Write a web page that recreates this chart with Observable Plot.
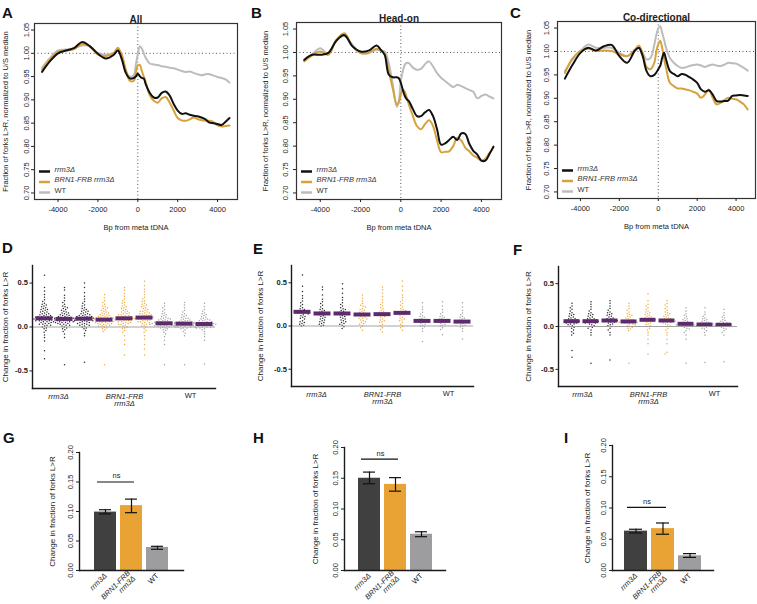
<!DOCTYPE html>
<html><head><meta charset="utf-8">
<script src="https://cdn.jsdelivr.net/npm/d3@7"></script>
<script src="https://cdn.jsdelivr.net/npm/@observablehq/plot@0.6"></script>
<style>
body{margin:0;background:#fff;font-family:"Liberation Sans",Arial,sans-serif;}
#fig{position:relative;width:757px;height:604px;overflow:hidden;background:#fff;}
#fig svg{position:absolute;}
.lt{position:absolute;font-weight:bold;font-size:15px;line-height:15px;color:#111;}
</style></head><body><div id="fig"></div>
<script>
// ---------- top row: line profiles ----------
const bp = [-4800,-4400,-4000,-3600,-3200,-2800,-2400,-2000,-1600,-1200,-1000,-800,-600,-400,-200,-100,0,100,200,300,400,600,800,1000,1200,1400,1600,1800,2000,2200,2400,2600,2800,3000,3200,3400,3600,3800,4000,4200,4400,4600];
const xTicks = [-4000,-2000,0,2000,4000];
const yTicksTop = [0.70,0.75,0.80,0.85,0.90,0.95,1.00,1.05];

const allRrm3 = [0.960,0.983,1.000,1.006,1.011,1.024,1.015,0.999,0.989,0.997,1.006,0.987,0.958,0.946,0.947,0.950,0.956,0.951,0.947,0.946,0.933,0.915,0.905,0.905,0.915,0.918,0.909,0.891,0.877,0.870,0.871,0.868,0.866,0.865,0.862,0.858,0.851,0.850,0.848,0.846,0.853,0.861];
const allBrn1 = [0.965,0.987,1.003,1.006,1.009,1.020,1.015,0.997,0.994,1.001,1.012,0.996,0.965,0.941,0.941,0.958,0.974,0.975,0.962,0.950,0.938,0.910,0.898,0.894,0.903,0.906,0.894,0.877,0.861,0.856,0.855,0.858,0.862,0.859,0.856,0.855,0.855,0.852,0.845,0.843,0.844,0.845];
const allWt   = [0.969,0.990,1.006,1.008,1.011,1.017,1.015,1.001,0.997,1.001,1.008,0.997,0.962,0.950,0.953,0.975,0.998,1.015,1.010,1.000,0.990,0.978,0.976,0.975,0.972,0.971,0.969,0.968,0.965,0.962,0.960,0.961,0.958,0.955,0.953,0.955,0.955,0.952,0.949,0.947,0.944,0.937];

const headRrm3 = [0.984,0.995,0.995,0.999,1.025,1.037,1.013,1.002,1.004,1.015,1.006,0.995,0.953,0.947,0.947,0.945,0.935,0.920,0.907,0.900,0.896,0.879,0.864,0.864,0.872,0.877,0.864,0.836,0.803,0.806,0.813,0.820,0.813,0.827,0.826,0.805,0.790,0.782,0.769,0.769,0.783,0.799];
const headBrn1 = [0.981,0.994,1.002,0.995,1.027,1.041,1.013,0.999,0.999,1.008,1.004,0.996,0.960,0.923,0.889,0.893,0.910,0.921,0.916,0.903,0.889,0.864,0.843,0.836,0.847,0.855,0.843,0.812,0.787,0.788,0.789,0.800,0.818,0.812,0.797,0.789,0.780,0.775,0.769,0.773,0.785,0.797];
const headWt   = [0.984,0.996,1.009,0.996,1.027,1.035,1.016,0.999,0.999,1.006,1.004,1.002,0.977,0.932,0.884,0.896,0.939,0.960,0.974,0.978,0.977,0.968,0.963,0.965,0.975,0.981,0.970,0.956,0.946,0.939,0.932,0.926,0.931,0.928,0.924,0.920,0.916,0.902,0.907,0.910,0.906,0.902];

const coRrm3 = [0.942,0.972,0.997,1.008,1.002,1.011,1.014,0.990,0.976,1.002,1.008,0.990,0.958,0.947,0.950,0.955,0.962,0.969,0.986,0.997,0.983,0.958,0.952,0.947,0.952,0.950,0.945,0.940,0.933,0.919,0.914,0.917,0.908,0.894,0.893,0.894,0.895,0.905,0.906,0.907,0.906,0.905];
const coBrn1 = [0.954,0.986,1.001,1.006,1.001,1.002,1.001,0.994,0.990,1.004,1.013,0.995,0.967,0.962,0.976,1.000,1.015,1.023,1.008,0.985,0.965,0.933,0.926,0.921,0.921,0.919,0.917,0.914,0.910,0.901,0.908,0.919,0.901,0.887,0.890,0.896,0.901,0.899,0.898,0.893,0.887,0.876];
const coWt   = [0.958,0.983,1.001,1.015,1.008,1.008,1.008,0.997,0.990,1.001,1.008,0.997,0.983,0.986,1.015,1.035,1.049,1.054,1.040,1.025,1.008,0.986,0.976,0.969,0.965,0.966,0.969,0.971,0.972,0.970,0.967,0.970,0.972,0.970,0.969,0.972,0.976,0.975,0.974,0.970,0.965,0.959];

const legendLabels = ["rrm3Δ", "BRN1-FRB rrm3Δ", "WT"];

// ---------- middle row: per-replicate changes (hundredths) ----------
const colGroup = ["rrm3","rrm3","rrm3","brn1","brn1","brn1","wt","wt","wt"];
const allCols = [
 "59 45 41 37 34 31 29 27 26 25 24 23 22 21 20 20 19 18 17 17 16 15 15 14 14 13 13 12 12 12 11 11 11 10 10 10 10 9 9 9 8 8 8 7 7 7 6 6 6 5 5 4 4 3 3 2 2 1 0 -1 -2 -4 -6 -9 -12 -16 -27 -36",
 "45 42 36 33 30 28 26 24 23 22 21 20 19 18 17 16 16 15 14 14 13 13 12 12 11 11 11 10 10 10 9 9 9 8 8 8 8 7 7 7 6 6 6 5 5 5 4 4 3 3 2 2 1 0 -1 -2 -3 -5 -8 -12 -43",
 "50 45 39 35 32 29 27 25 24 22 21 20 19 18 18 17 16 15 15 14 14 13 13 12 12 12 11 11 11 10 10 10 9 9 9 8 8 8 7 7 7 6 6 5 5 4 4 3 3 2 2 1 0 -1 -2 -4 -7 -10 -40",
 "37 33 30 28 26 24 23 22 21 20 19 18 17 16 16 15 14 14 13 13 12 12 11 11 11 10 10 10 9 9 9 9 8 8 8 7 7 7 6 6 6 5 5 5 4 4 4 3 3 2 2 1 1 0 -1 -2 -3 -5 -43",
 "45 42 38 35 32 30 28 27 25 24 23 22 21 20 19 18 17 17 16 15 15 14 14 13 13 12 12 11 11 11 10 10 10 9 9 9 8 8 8 7 7 6 6 5 5 4 4 3 3 2 1 0 -1 -2 -4 -6 -10 -15 -20 -32",
 "52 47 43 40 37 34 32 30 29 27 26 25 24 23 22 21 20 19 18 18 17 16 16 15 15 14 14 13 13 12 12 12 11 11 11 10 10 10 9 9 8 8 7 7 6 6 5 5 4 3 2 1 0 -2 -4 -6 -10 -14 -20 -25 -32",
 "27 24 22 20 18 16 15 14 13 12 11 10 10 9 9 8 8 7 7 6 6 6 5 5 5 5 4 4 4 4 4 3 3 3 3 2 2 2 2 1 1 1 0 0 0 -1 -1 -2 -3 -4 -6 -8 -11 -15 -20 -43",
 "28 25 22 19 17 15 14 13 12 11 10 10 9 8 8 7 7 6 6 6 5 5 5 4 4 4 4 3 3 3 3 2 2 2 2 1 1 1 0 0 0 -1 -1 -2 -3 -5 -7 -10 -43",
 "27 23 20 18 16 15 14 13 12 11 10 9 9 8 8 7 7 6 6 5 5 5 4 4 4 4 3 3 3 3 2 2 2 1 1 1 0 0 0 -1 -1 -2 -3 -5 -8 -11 -15 -42"
];
const allMeds = [0.099,0.092,0.095,0.084,0.099,0.107,0.042,0.038,0.034];

const headCols = [
 "59 46 40 35 32 29 27 25 23 21 20 19 18 17 16 16 15 15 14 13 12 11 10 9 8 6 5 4 3 2 1 0",
 "45 42 36 31 28 26 24 22 20 19 18 17 16 15 14 14 13 12 11 10 9 8 7 6 5 4 3 2 1 0",
 "49 43 38 33 30 27 25 23 21 20 19 18 17 16 15 14 14 13 12 11 10 9 8 7 6 5 4 3 2 1 -1 -3",
 "36 32 29 26 24 23 22 20 19 18 17 16 15 14 13 13 12 11 10 9 9 8 7 6 5 4 3 2 0 -2 -5",
 "45 42 38 34 30 27 25 23 21 20 18 17 16 15 14 14 13 12 11 10 8 7 6 5 4 2 0 -2 -4 -7",
 "52 46 41 36 33 30 28 26 24 22 20 19 18 17 16 15 15 14 13 12 10 9 8 7 6 4 2 0 -2 -5",
 "27 22 19 16 14 12 11 10 9 8 7 7 6 6 5 5 4 3 2 1 0 -1 -3 -6 -18",
 "28 23 19 16 14 12 11 10 9 8 7 6 6 5 5 4 3 2 1 0 -2 -4 -10",
 "27 22 18 15 13 11 10 9 8 7 6 5 5 4 4 3 2 1 0 -1 -3 -6 -15"
];
const headMeds = [0.164,0.145,0.145,0.133,0.137,0.152,0.059,0.059,0.051];

const coCols = [
 "27 24 22 20 18 16 15 14 13 12 11 10 9 9 8 8 7 7 6 6 6 5 5 4 4 3 3 2 1 0 -1 -2 -4 -6 -8 -10 -28 -36",
 "29 26 23 20 18 16 15 14 13 12 11 10 9 9 8 8 7 7 6 6 6 5 5 4 4 3 2 1 0 -1 -2 -4 -7 -10 -43",
 "30 27 24 21 19 17 16 15 14 13 12 11 10 9 9 8 8 7 7 7 6 6 5 5 4 3 2 1 0 -2 -4 -7 -10 -39",
 "27 24 21 19 17 15 14 13 12 11 10 9 8 8 7 7 6 6 6 5 5 5 4 4 3 3 2 1 0 -1 -2 -3 -5 -43",
 "38 30 26 24 22 20 18 17 16 15 14 13 12 11 10 10 9 9 8 8 8 7 7 6 6 5 4 3 2 1 0 -2 -4 -7 -10 -15 -20 -32",
 "30 27 25 23 21 19 17 16 15 14 13 12 11 10 9 9 8 8 7 7 7 6 6 5 5 4 3 2 1 0 -2 -4 -7 -10 -15 -20 -30 -32",
 "22 18 15 13 12 10 9 8 7 6 5 5 4 4 3 3 3 2 2 2 1 1 0 0 -1 -2 -3 -5 -7 -10 -15 -43",
 "22 17 14 12 10 9 8 7 6 5 5 4 4 3 3 3 2 2 2 1 1 0 0 -1 -2 -3 -5 -7 -10 -42",
 "20 16 13 11 10 8 7 6 5 5 4 4 3 3 2 2 2 1 1 1 0 0 -1 -2 -3 -5 -7 -10 -41"
];
const coMeds = [0.062,0.062,0.070,0.059,0.078,0.070,0.031,0.023,0.020];

const groupLabels = [{col: 2, label: "rrm3Δ", it: true}, {col: 5, label: "BRN1-FRB\nrrm3Δ", it: true}, {col: 8, label: "WT", it: false}];

// ---------- bottom row: mean change ± SEM ----------
const barCats = ["rrm3Δ", "BRN1-FRB rrm3Δ", "WT"];
const barTickText = ["rrm3Δ", "BRN1-FRB\nrrm3Δ", "WT"];
const allMean = [0.099, 0.110, 0.039], allLo = [0.096, 0.098, 0.036], allHi = [0.103, 0.121, 0.041], allNs = 0.150;
const headMean = [0.150, 0.140, 0.059], headLo = [0.141, 0.129, 0.055], headHi = [0.160, 0.151, 0.063], headNs = 0.181;
const coMean = [0.063, 0.067, 0.0235], coLo = [0.060, 0.058, 0.021], coHi = [0.066, 0.076, 0.027], coNs = 0.101;

// ---------- styles ----------
const FONT = '"Liberation Sans", Arial, Helvetica, sans-serif';
const LINE = {rrm3: "#111111", brn1: "#d5a23b", wt: "#bcbcbc"};
const DOT = {rrm3: "#2b2b2b", brn1: "#eeac3e", wt: "#a3a3a3"};
const BAR = {"rrm3Δ": "#404040", "BRN1-FRB rrm3Δ": "#e9a234", "WT": "#9d9d9f"};
const PURPLE = "#5d2a6d";
const AXIS = "#1a1a1a";
const fig = document.getElementById("fig");
function place(svg, left, top) { svg.style.left = left + "px"; svg.style.top = top + "px"; fig.appendChild(svg); }
const dash = {draw(ctx) { ctx.moveTo(-5.5, 0); ctx.lineTo(5.5, 0); }};
const baseStyle = {fontFamily: FONT, fontSize: "7.5px", color: "#222", background: "transparent", overflow: "visible"};

function linePanel(p) {
  const mk = s => bp.map((x, i) => ({x, y: s[i]}));
  const leg = [[legendLabels[0], LINE.rrm3, "italic", -28], [legendLabels[1], LINE.brn1, "italic", -17.5], [legendLabels[2], LINE.wt, "normal", -7]];
  const svg = Plot.plot({
    width: p.w, height: 240, marginLeft: p.ml, marginRight: p.mr, marginTop: p.mt, marginBottom: p.mb,
    style: {...baseStyle},
    x: {domain: [-5180, 5000]},
    y: {domain: [0.686, 1.064]},
    marks: [
      Plot.ruleY([1], {stroke: "#555", strokeDasharray: "1,2.5"}),
      Plot.ruleX([0], {stroke: "#555", strokeDasharray: "1,2.5"}),
      Plot.line(mk(p.wt), {x: "x", y: "y", stroke: LINE.wt, strokeWidth: 2, curve: "catmull-rom"}),
      Plot.line(mk(p.brn1), {x: "x", y: "y", stroke: LINE.brn1, strokeWidth: 2, curve: "catmull-rom"}),
      Plot.line(mk(p.rrm3), {x: "x", y: "y", stroke: LINE.rrm3, strokeWidth: 2, curve: "catmull-rom"}),
      Plot.frame({stroke: "#333", strokeWidth: 1.2}),
      Plot.axisX({ticks: xTicks, tickFormat: d => String(d), tickSize: 3, tickPadding: 4, label: null}),
      Plot.axisY({ticks: yTicksTop, tickFormat: d => d.toFixed(2), tickSize: 3, tickPadding: p.tp, tickRotate: -90, label: null}),
      Plot.text([p.title], {text: d => d, frameAnchor: "top", dy: -8, fontWeight: "bold", fontSize: 10}),
      Plot.text(["Bp from meta tDNA"], {text: d => d, frameAnchor: "bottom", dy: 30}),
      Plot.text(["Fraction of forks L>R, normalized to U/S median"], {text: d => d, frameAnchor: "left", textAnchor: "middle", rotate: -90, dx: p.ty}),
      ...leg.flatMap(([t, c, fs, dy]) => [
        Plot.dot([t], {frameAnchor: "bottom-left", dx: 10, dy, symbol: dash, stroke: c, strokeWidth: 2.5, fill: "none"}),
        Plot.text([t], {text: d => d, frameAnchor: "bottom-left", dx: 20, dy, textAnchor: "start", fontStyle: fs, fill: "#333"})
      ])
    ]
  });
  place(svg, p.left, 0);
}

function dotPanel(p) {
  const data = [];
  p.cols.forEach((s, i) => s.trim().split(/\s+/).forEach(t => data.push({col: i + 1, g: colGroup[i], v: +t / 100})));
  const meds = p.meds.map((m, i) => ({col: i + 1, m}));
  const cols = d3.range(1, 10);
  const dims = {width: p.w, height: 190, marginLeft: p.ml, marginRight: p.mr, marginTop: p.mt, marginBottom: p.mb};
  // beeswarm layer (faceted by column)
  const swarm = Plot.plot({
    ...dims, style: {...baseStyle},
    fx: {domain: cols, padding: 0, axis: null},
    y: {domain: [-0.7, 0.7], axis: null},
    color: {type: "identity"},
    marks: [
      Plot.dot(data, Plot.dodgeX("middle", {fx: "col", y: "v", r: 0.75, padding: 0.35, fill: d => DOT[d.g]})),
      Plot.ruleY(meds, {fx: "col", y: "m", stroke: PURPLE, strokeWidth: 4, insetLeft: 1.5, insetRight: 1.5})
    ]
  });
  place(swarm, p.left, 240);
  // axes layer (columns as a band scale matching the facet layout)
  const axes = Plot.plot({
    ...dims, style: {...baseStyle},
    x: {domain: cols, padding: 0, axis: null},
    y: {domain: [-0.7, 0.7]},
    marks: [
      Plot.ruleY([0], {stroke: "#9a9a9a", strokeWidth: 0.9}),
      Plot.frame({anchor: "left", stroke: AXIS, strokeWidth: 1.4}),
      Plot.frame({anchor: "bottom", stroke: AXIS, strokeWidth: 1.4}),
      Plot.axisY({ticks: [-0.5, 0, 0.5], tickFormat: d => d.toFixed(1), tickSize: 2.5, tickPadding: 2, label: null, fontWeight: "bold"}),
      Plot.text(groupLabels.filter(d => d.it), {x: "col", text: "label", frameAnchor: "bottom", dy: 5, lineAnchor: "top", fontStyle: "italic"}),
      Plot.text(groupLabels.filter(d => !d.it), {x: "col", text: "label", frameAnchor: "bottom", dy: 4, lineAnchor: "top"}),
      Plot.text(["Change in fraction of forks L>R"], {text: d => d, frameAnchor: "left", textAnchor: "middle", rotate: -90, dx: p.ty, fontSize: 8})
    ]
  });
  place(axes, p.left, 240);
}

function barPanel(p) {
  const rows = barCats.map((c, i) => ({c, m: p.mean[i], lo: p.lo[i], hi: p.hi[i]}));
  const lab = c => barTickText[barCats.indexOf(c)];
  const svg = Plot.plot({
    width: p.w, height: 174, marginLeft: p.ml, marginRight: p.mr, marginTop: p.mt, marginBottom: 34,
    style: {...baseStyle},
    x: {domain: barCats, paddingInner: 0.16, paddingOuter: p.po},
    y: {domain: [0, 0.2]},
    color: {type: "identity"},
    marks: [
      Plot.barY(rows, {x: "c", y: "m", fill: d => BAR[d.c]}),
      Plot.ruleX(rows, {x: "c", y1: "lo", y2: "hi", stroke: "#111", strokeWidth: 1.2}),
      Plot.tickY(rows, {x: "c", y: "lo", stroke: "#111", strokeWidth: 1.2, inset: 5}),
      Plot.tickY(rows, {x: "c", y: "hi", stroke: "#111", strokeWidth: 1.2, inset: 5}),
      Plot.ruleY([p.ns], {y: d => d, x1: () => barCats[0], x2: () => barCats[1], stroke: "#111", strokeWidth: 1.2, insetLeft: 3, insetRight: 8}),
      Plot.text(["ns"], {x: () => barCats[0], y: () => p.ns, text: d => d, dx: 11, dy: -6}),
      Plot.frame({anchor: "left", stroke: AXIS, strokeWidth: 1.4}),
      Plot.frame({anchor: "bottom", stroke: AXIS, strokeWidth: 1.4}),
      Plot.axisY({ticks: [0, 0.05, 0.1, 0.15, 0.2], tickFormat: d => d.toFixed(2), tickRotate: -90, tickSize: 3, tickPadding: 4, label: null}),
      Plot.axisX({ticks: barCats.slice(0, 2), tickFormat: lab, tickRotate: -45, tickSize: 0, tickPadding: 4, fontStyle: "italic", label: null}),
      Plot.axisX({ticks: barCats.slice(2), tickFormat: lab, tickRotate: -45, tickSize: 0, tickPadding: 4, label: null}),
      Plot.text(["Change in fraction of forks L>R"], {text: d => d, frameAnchor: "left", textAnchor: "middle", rotate: -90, dx: p.ty, fontSize: 8})
    ]
  });
  place(svg, p.left, 430);
}

linePanel({left: 0,   w: 250, ml: 34, mr: 13, mt: 23, mb: 41, tp: 3, ty: -29, title: "All",            rrm3: allRrm3,  brn1: allBrn1,  wt: allWt});
linePanel({left: 250, w: 255, ml: 46, mr: 4,  mt: 22, mb: 41, tp: 6, ty: -31, title: "Head-on",        rrm3: headRrm3, brn1: headBrn1, wt: headWt});
linePanel({left: 505, w: 252, ml: 52, mr: 2,  mt: 21, mb: 42, tp: 6, ty: -29, title: "Co-directional", rrm3: coRrm3,   brn1: coBrn1,   wt: coWt});

dotPanel({left: 0,   w: 250, ml: 32, mr: 35, mt: 25, mb: 42, ty: -27, cols: allCols,  meds: allMeds});
dotPanel({left: 250, w: 255, ml: 41, mr: 32, mt: 25, mb: 44, ty: -31, cols: headCols, meds: headMeds});
dotPanel({left: 505, w: 252, ml: 53, mr: 20, mt: 26, mb: 44, ty: -30, cols: coCols,   meds: coMeds});

barPanel({left: 0,   w: 250, ml: 79,  mr: 67, mt: 22, po: 0.55, ty: -27, ns: allNs,  mean: allMean,  lo: allLo,  hi: allHi});
barPanel({left: 250, w: 255, ml: 94,  mr: 60, mt: 17, po: 0.47, ty: -29, ns: headNs, mean: headMean, lo: headLo, hi: headHi});
barPanel({left: 505, w: 252, ml: 107, mr: 44, mt: 15, po: 0.45, ty: -25, ns: coNs,   mean: coMean,   lo: coLo,   hi: coHi});

// panel letters
[["A",2,5],["B",251,5],["C",510,5],["D",2,240],["E",253,241],["F",513,242],["G",3,430],["H",253,430],["I",564,430]].forEach(([t,x,y]) => {
  const d = document.createElement("div"); d.className = "lt"; d.textContent = t; d.style.left = x + "px"; d.style.top = y + "px"; fig.appendChild(d);
});
</script></body></html>
